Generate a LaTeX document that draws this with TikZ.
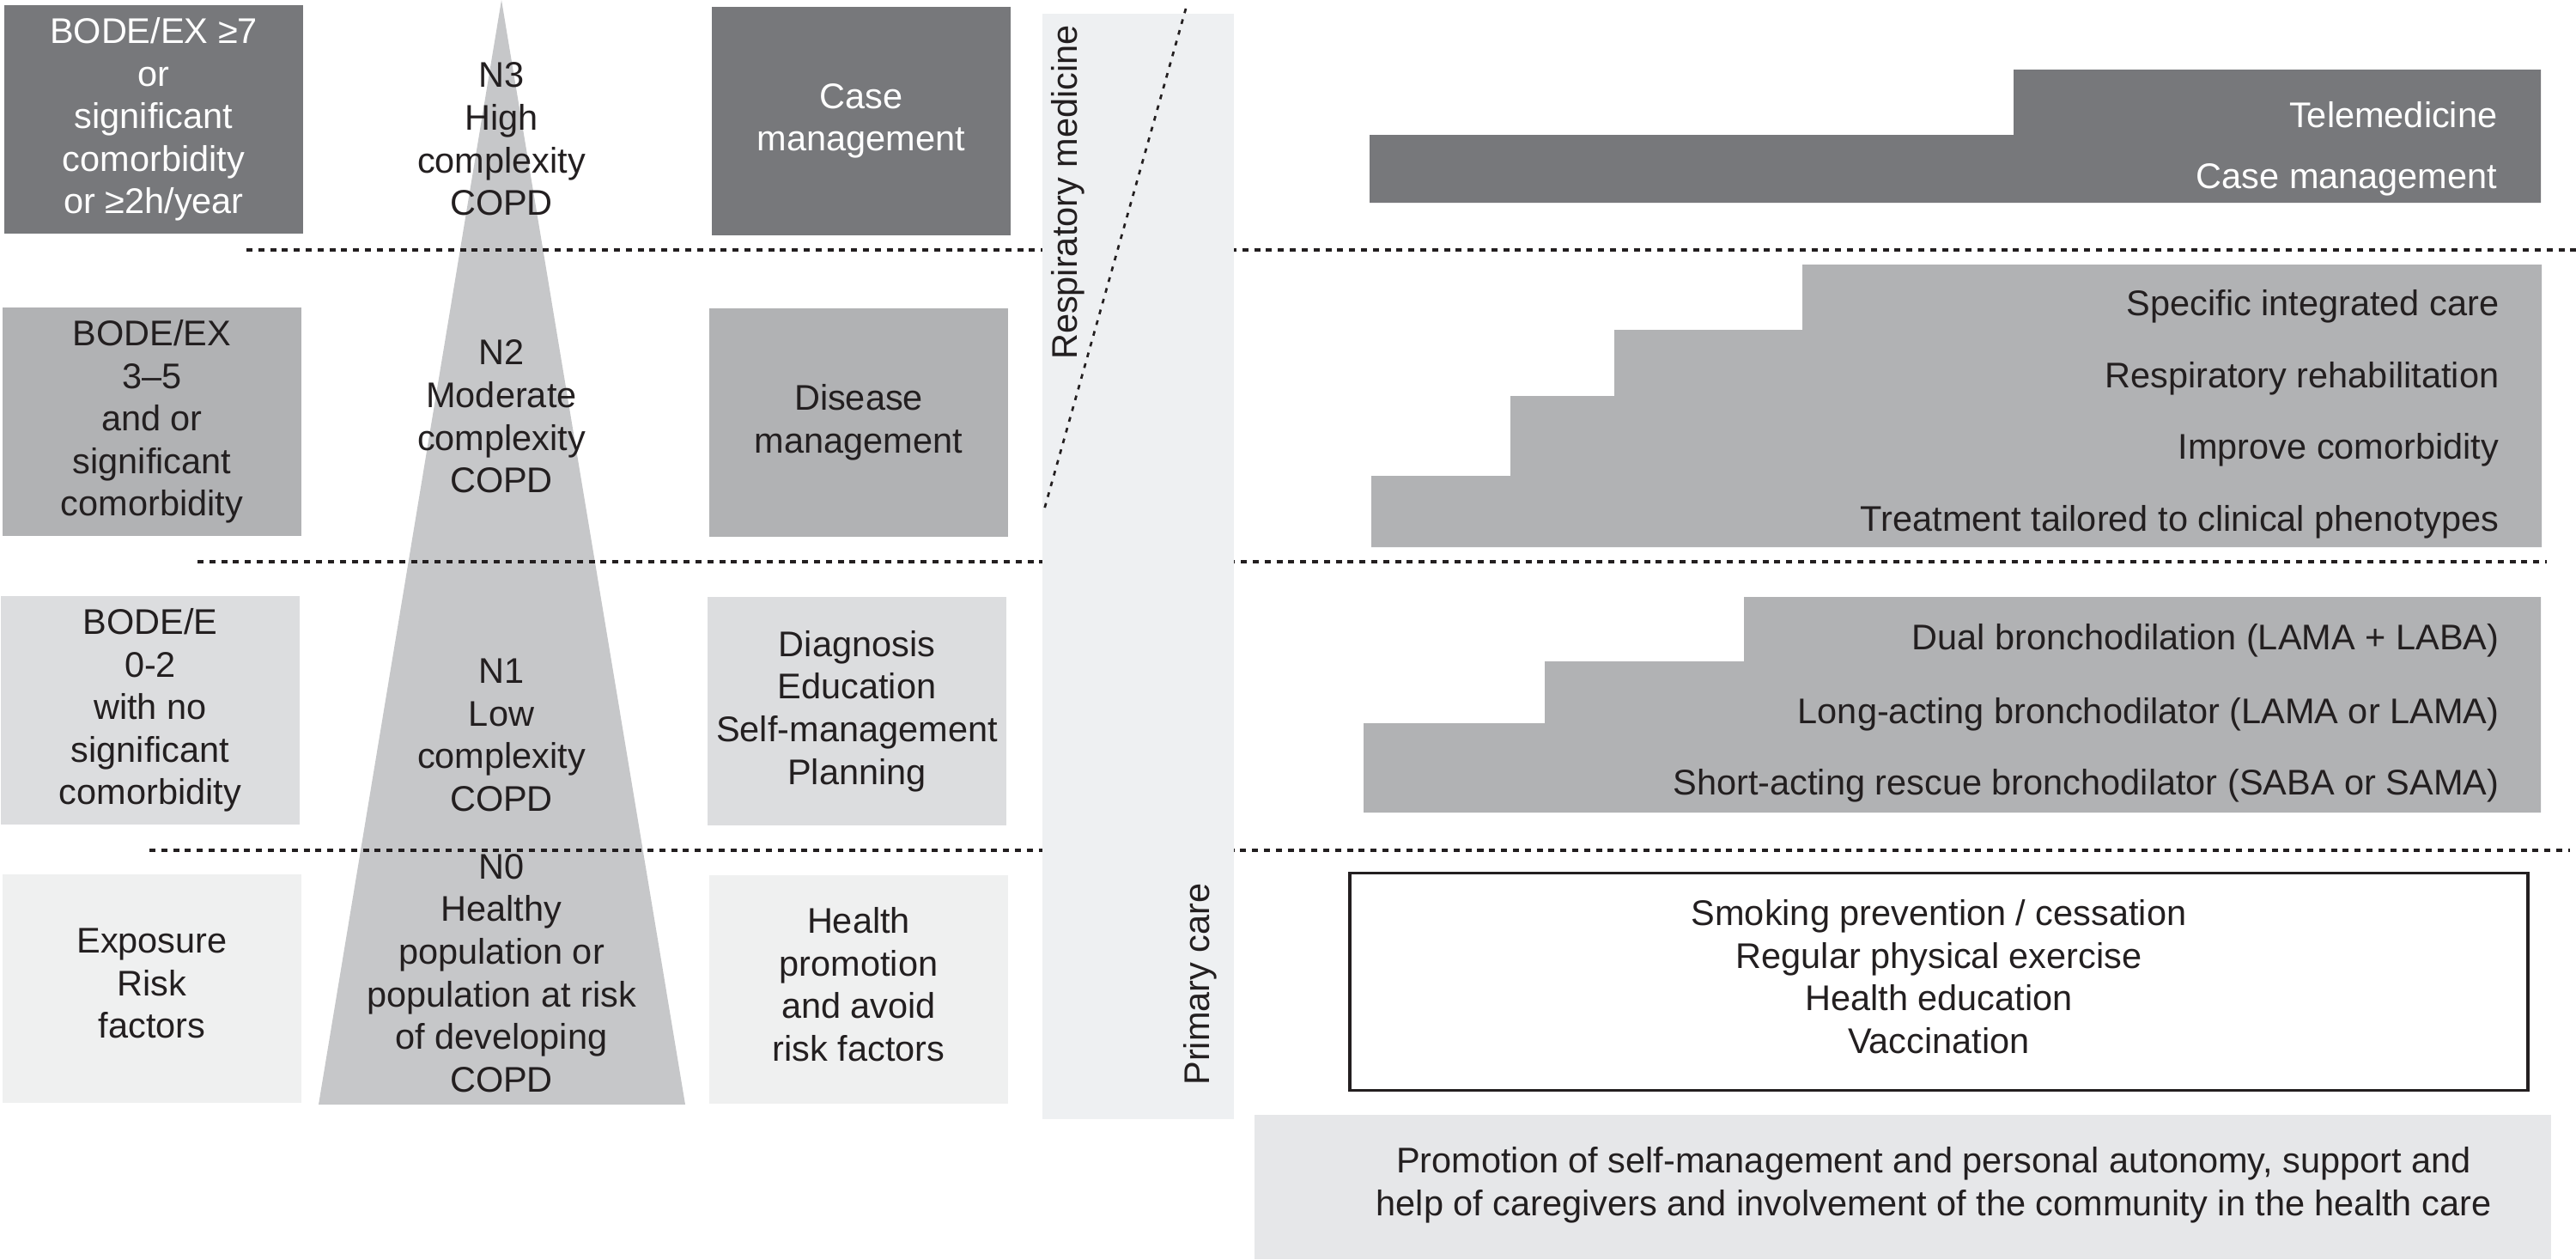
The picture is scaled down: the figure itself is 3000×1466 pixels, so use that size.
\documentclass[tikz,border=0pt]{standalone}
\usepackage{fontspec}
\setmainfont{Liberation Sans}
\definecolor{ink}{HTML}{231F20}
\definecolor{levelD}{HTML}{77787B}
\definecolor{levelC}{HTML}{B1B2B4}
\definecolor{levelB}{HTML}{DCDDDF}
\definecolor{levelA}{HTML}{EFF0F0}
\definecolor{spike}{HTML}{C6C7C9}
\definecolor{band}{HTML}{EEF0F2}
\definecolor{footer}{HTML}{E6E7E9}

\begin{document}
\begin{tikzpicture}[x=0.01cm,y=-0.01cm,
    every node/.style={inner sep=0pt, align=center, text=ink, font=\fontsize{11.8pt}{14.1pt}\selectfont},
    tierbox/.style={minimum width=3.48cm, minimum height=2.66cm},
    sepline/.style={line width=0.33mm, ink, dash pattern=on 0.7mm off 0.68mm},
    steptext/.style={anchor=east, text height=3mm, text depth=0.85mm}]
    \useasboundingbox (0,0) rectangle (3000,1466);
    \fill[spike] (584,0) -- (798,1286) -- (371,1286) -- cycle;
    \foreach \y/\xa/\xb in {291/287/3000, 654/230/2966, 990/174/2993}
        {
            \draw[sepline] (\xa,\y) -- (\xb,\y);
        }
    \fill[band] (1214,16) rectangle (1437,1303);
    \draw[line width=0.27mm, ink, dash pattern=on 0.55mm off 0.75mm] (1381,10) -- (1215,597);
    \node[rotate=90, anchor=base] (resp) at (1254,224) {Respiratory medicine};
    \node[rotate=90, anchor=base] (prim) at (1408,1146) {Primary care};
    % severity
    \node[tierbox, fill=levelD, text=white] (bode3) at (179,139) {BODE/EX ≥7\\or\\significant\\comorbidity\\or ≥2h/year};
    \node[tierbox, fill=levelC] (bode2) at (177,491) {BODE/EX\\3–5\\and or\\significant\\comorbidity};
    \node[tierbox, fill=levelB] (bode1) at (175,827) {BODE/E\\0-2\\with no\\significant\\comorbidity};
    \node[tierbox, fill=levelA, text depth=1.2mm] (bode0) at (177,1151) {Exposure\\Risk\\factors};
    % levels
    \node (n3) at (584,162) {N3\\High\\complexity\\COPD};
    \node (n2) at (584,485) {N2\\Moderate\\complexity\\COPD};
    \node (n1) at (584,856) {N1\\Low\\complexity\\COPD};
    \node (n0) at (584,1133) {N0\\Healthy\\population or\\population at risk\\of developing\\COPD};
    % care models
    \node[tierbox, fill=levelD, text=white] (care3) at (1003,141) {Case\\management};
    \node[tierbox, fill=levelC] (care2) at (1000,492) {Disease\\management};
    \node[tierbox, fill=levelB] (care1) at (998,828) {Diagnosis\\Education\\Self-management\\Planning};
    \node[tierbox, fill=levelA, text depth=1.2mm] (care0) at (1000,1152) {Health\\promotion\\and avoid\\risk factors};
    % interventions
    \fill[levelD] (1595,236) -- (2959,236) -- (2959,81) -- (2345,81) -- (2345,157) -- (1595,157) -- cycle;
    \node[steptext, text=white] (tele) at (2909,138) {Telemedicine};
    \node[steptext, text=white] (casem) at (2909,209) {Case management};
    \fill[levelC] (1597,637) -- (2960,637) -- (2960,308) -- (2099,308) -- (2099,384) -- (1880,384)
        -- (1880,461) -- (1759,461) -- (1759,554) -- (1597,554) -- cycle;
    \node[steptext] (integ) at (2911,357) {Specific integrated care};
    \node[steptext] (rehab) at (2911,441) {Respiratory rehabilitation};
    \node[steptext] (comorb) at (2911,524) {Improve comorbidity};
    \node[steptext] (pheno) at (2911,608) {Treatment tailored to clinical phenotypes};
    \fill[levelC] (1588,946) -- (2959,946) -- (2959,695) -- (2031,695) -- (2031,770) -- (1799,770)
        -- (1799,842) -- (1588,842) -- cycle;
    \node[steptext] (dual) at (2911,746) {Dual bronchodilation (LAMA + LABA)};
    \node[steptext] (long) at (2911,832) {Long-acting bronchodilator (LAMA or LAMA)};
    \node[steptext] (short) at (2911,915) {Short-acting rescue bronchodilator (SABA or SAMA)};
    \node[draw=ink, line width=0.33mm, minimum width=13.71cm, minimum height=2.53cm, text depth=1.2mm] (prev) at (2258,1143)
        {Smoking prevention / cessation\\Regular physical exercise\\Health education\\Vaccination};
    \fill[footer] (1461,1298) rectangle (2971,1466);
    \node (promo) at (2252,1380) {Promotion of self-management and personal autonomy, support and\\help of caregivers and involvement of the community in the health care};
\end{tikzpicture}
\end{document}
